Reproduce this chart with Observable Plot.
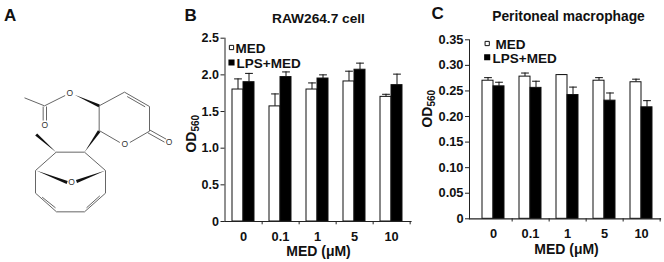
<!DOCTYPE html>
<html>
<head>
<meta charset="utf-8">
<script src="https://cdn.jsdelivr.net/npm/d3@7"></script>
<script src="https://cdn.jsdelivr.net/npm/@observablehq/plot@0.6"></script>
<style>
html,body{margin:0;padding:0;background:#fff;}
#c{position:relative;width:664px;height:262px;overflow:hidden;}
#c svg{position:absolute;left:0;top:0;}
</style>
</head>
<body>
<div id="c"></div>
<script>
const categories = ["0", "0.1", "1", "5", "10"];
const series = ["MED", "LPS+MED"];

const rawMed = [1.80, 1.57, 1.80, 1.91, 1.70];
const rawLps = [1.90, 1.97, 1.95, 2.07, 1.86];
const rawMedTop = [1.945, 1.74, 1.89, 2.05, 1.735];
const rawLpsTop = [2.02, 2.04, 2.00, 2.16, 2.01];
const rawTicks = [0, 0.5, 1.0, 1.5, 2.0, 2.5];

const periMed = [0.270, 0.278, 0.281, 0.270, 0.267];
const periLps = [0.259, 0.256, 0.242, 0.231, 0.218];
const periMedTop = [0.276, 0.285, 0.282, 0.276, 0.273];
const periLpsTop = [0.267, 0.269, 0.2575, 0.246, 0.231];
const periTicks = [0, 0.05, 0.10, 0.15, 0.20, 0.25, 0.30, 0.35];

// Structure of the compound: [x1, y1, x2, y2]
const bonds = [
  [72,292,132,316],[132,316,194,285],[128,318,128,360],[138,318,138,360],
  [296,316,372,275],[372,275,447,318],[380,288,434,319],[447,318,447,392],[447,392,388,426],
  [358,426,296,390],[296,390,296,316],[447,388,497,416],[442,397,492,425],
  [167,455,252,455],[167,455,105,510],[252,455,315,510],
  [105,510,105,578],[105,578,168,634],[168,634,252,634],[252,634,315,578],[315,578,315,510],
  [125,590,165,622],[258,622,298,586]
];
// Filled wedge bonds: [tip x, tip y, base x, base y]
const wedges = [
  [222,283,296,316],[252,455,296,392],[167,455,107,402],[107,510,200,546],[315,510,228,543]
];
const atoms = [[208,278],[133,374],[373,432],[506,425],[213,546]];

const root = document.getElementById("c");
const FONT = "'Liberation Sans', Arial, sans-serif";

function molecule() {
  const wedgePts = wedges.flatMap((w, i) => {
    const dx = w[2]-w[0], dy = w[3]-w[1], l = Math.hypot(dx, dy), nx = -dy/l*4.5, ny = dx/l*4.5;
    return [{i,x:w[0],y:w[1]},{i,x:w[2]+nx,y:w[3]+ny},{i,x:w[2]-nx,y:w[3]-ny}];
  });
  return Plot.plot({
    width: 664, height: 262, margin: 0, style: {background: "transparent"},
    x: {domain: [0, 1992], range: [0, 664], axis: null},
    y: {domain: [0, 786], range: [0, 262], axis: null},
    marks: [
      Plot.link(bonds, {x1: d=>d[0], y1: d=>d[1], x2: d=>d[2], y2: d=>d[3], stroke: "#666", strokeWidth: 1}),
      Plot.line(wedgePts, {x: "x", y: "y", z: "i", fill: "#111", stroke: "none"}),
      Plot.text(atoms, {x: d=>d[0], y: d=>d[1], text: () => "O", fontSize: 8.5, fontFamily: FONT, fill: "#333"}),
      Plot.text(["A"], {frameAnchor: "top-left", dx: 3.5, dy: 20, lineAnchor: "bottom", textAnchor: "start", fontSize: 17, fontWeight: "bold", fontFamily: FONT, fill: "#111"})
    ]
  });
}

function panel(cfg) {
  const med = categories.map((c, i) => ({c, v: cfg.med[i], t: cfg.medTop[i]}));
  const lps = categories.map((c, i) => ({c, v: cfg.lps[i], t: cfg.lpsTop[i]}));
  const L = cfg.left, T = cfg.top;
  const label = (s, px, py, o = {}) => Plot.text([s], {
    text: d => d, frameAnchor: "top-left", dx: px - L, dy: py - T, lineAnchor: "bottom",
    textAnchor: "start", fontFamily: FONT, fontWeight: "bold", fill: "#111", ...o
  });
  const errs = (rows, dx) => [
    Plot.ruleX(rows, {x: "c", y1: "v", y2: "t", dx, stroke: "#111", strokeWidth: 1}),
    Plot.dot(rows, {x: "c", y: "t", dx, symbol: {draw(ctx, size) { const r = Math.sqrt(size); ctx.moveTo(-r, 0); ctx.lineTo(r, 0); }}, r: 2.2, stroke: "#111", fill: "none", strokeWidth: 1})
  ];
  return Plot.plot({
    width: 664, height: 262,
    marginLeft: L, marginTop: T, marginRight: 664 - cfg.right, marginBottom: 262 - cfg.bottom,
    style: {background: "transparent"},
    x: {domain: categories, range: cfg.xRange, paddingInner: 0.41, paddingOuter: 0.205, axis: null},
    y: {domain: cfg.domain, axis: null},
    marks: [
      ...errs(med, -5.5), ...errs(lps, 5.5),
      Plot.barY(med, {x: "c", y: "v", insetRight: 11, fill: "#fff", stroke: "#111", strokeWidth: 1}),
      Plot.barY(lps, {x: "c", y: "v", insetLeft: 11, fill: "#000", stroke: "#111", strokeWidth: 1}),
      Plot.ruleX(categories, {x: d => d, y1: 0, y2: cfg.domain[1] * -0.018, dx: 18.65, stroke: "#222", strokeWidth: 1}),
      Plot.frame({anchor: "left", stroke: "#222"}),
      Plot.frame({anchor: "bottom", stroke: "#222", strokeWidth: 1.2}),
      Plot.axisY({ticks: cfg.ticks, anchor: "left", tickSize: 4, tickPadding: 2, label: null,
        tickFormat: cfg.fmt, fontSize: cfg.tickFont, fontWeight: "bold", fontFamily: FONT, fill: "#111", stroke: "#222"}),
      Plot.axisX({anchor: "bottom", tickSize: 0, tickPadding: cfg.catPad, label: null,
        fontSize: 12.8, fontWeight: "bold", fontFamily: FONT, fill: "#111"}),
      label(cfg.letter[0], cfg.letter[1], cfg.letter[2], {fontSize: 17}),
      label(cfg.title[0], cfg.title[1], cfg.title[2], {fontSize: cfg.titleFont, textAnchor: "middle"}),
      label("MED (\u03bcM)", cfg.xLabel[0], cfg.xLabel[1], {fontSize: 14, textAnchor: "middle"}),
      label("OD", cfg.od[0], cfg.od[1], {fontSize: 13.8, rotate: -90}),
      label("560", cfg.od[0] + 3.5, cfg.od[1] - 21, {fontSize: 10, rotate: -90}),
      Plot.dot([series[0]], {frameAnchor: "top-left", dx: cfg.leg[0] - L, dy: cfg.leg[1] - T, symbol: "square", r: 2.4, fill: "#fff", stroke: "#111", strokeWidth: 1}),
      Plot.dot([series[1]], {frameAnchor: "top-left", dx: cfg.leg[2] - L, dy: cfg.leg[3] - T, symbol: "square", r: 2.6, fill: "#000", stroke: "#000"}),
      label(series[0], cfg.leg[4], cfg.leg[5], {fontSize: 13.5}),
      label(series[1], cfg.leg[6], cfg.leg[7], {fontSize: 13.5})
    ]
  });
}

root.append(molecule());
root.append(panel({
  left: 224.5, top: 37.7, right: 410.5, bottom: 221, xRange: [224, 410.5],
  domain: [0, 2.5], ticks: rawTicks, fmt: d => d === 0 ? "0" : d3.format(".1f")(d), tickFont: 12.5, catPad: 10,
  med: rawMed, lps: rawLps, medTop: rawMedTop, lpsTop: rawLpsTop,
  letter: ["B", 184, 20], title: ["RAW264.7 cell", 318, 22], titleFont: 13.7, xLabel: [318, 255.5],
  od: [195, 152], leg: [231, 47, 231, 62, 235, 52, 236, 67]
}));
root.append(panel({
  left: 469, top: 39.3, right: 660, bottom: 218.3, xRange: [473.4, 660],
  domain: [0, 0.35], ticks: periTicks, fmt: d => d === 0 ? "0" : d3.format(".2f")(d), tickFont: 12.8, catPad: 10,
  med: periMed, lps: periLps, medTop: periMedTop, lpsTop: periLpsTop,
  letter: ["C", 431, 18], title: ["Peritoneal macrophage", 568, 20], titleFont: 13.8, xLabel: [566, 253],
  od: [431, 127], leg: [486.7, 43, 486.7, 56.7, 495, 48.3, 492, 62]
}));
</script>
</body>
</html>
